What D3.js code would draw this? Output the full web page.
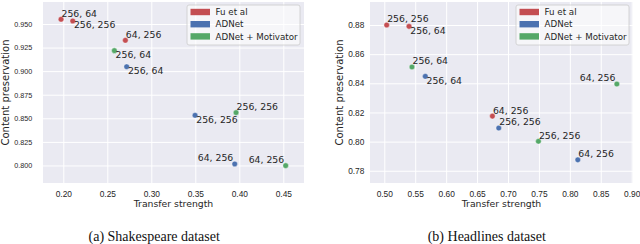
<!DOCTYPE html>
<html>
<head>
<meta charset="utf-8">
<script src="https://cdn.jsdelivr.net/npm/d3@7"></script>
<style>
  body { margin: 0; background: #fff; }
  svg { display: block; font-family: "DejaVu Sans", sans-serif; }
</style>
</head>
<body>
<div id="chart"></div>
<script>
// series shared by both panels
const seriesNames = ['Fu et al', 'ADNet', 'ADNet + Motivator'];
const seriesColors = ['#C44E52', '#4C72B0', '#55A868'];

// (a) Shakespeare dataset, one inner array per series
const shakesX = [[0.1974, 0.2107, 0.2705], [0.2720, 0.3497, 0.3948], [0.2580, 0.3963, 0.4527]];
const shakesY = [[0.9550, 0.9532, 0.9327], [0.9047, 0.8532, 0.8016], [0.9217, 0.8560, 0.7998]];
const shakesLabels = [['256, 64', '256, 256', '64, 256'], ['256, 64', '256, 256', '64, 256'], ['256, 64', '256, 256', '64, 256']];
const shakesXTicks = [0.20, 0.25, 0.30, 0.35, 0.40, 0.45];
const shakesYTicks = [0.800, 0.825, 0.850, 0.875, 0.900, 0.925, 0.950];

// (b) Headlines dataset
const headX = [[0.5039, 0.5400, 0.6748], [0.5663, 0.6851, 0.8129], [0.5448, 0.7492, 0.8760]];
const headY = [[0.8800, 0.8791, 0.8175], [0.8448, 0.8093, 0.7875], [0.8512, 0.8002, 0.8395]];
const headLabels = [['256, 256', '256, 64', '64, 256'], ['256, 64', '256, 256', '64, 256'], ['256, 64', '256, 256', '64, 256']];
const headXTicks = [0.50, 0.55, 0.60, 0.65, 0.70, 0.75, 0.80, 0.85, 0.90];
const headYTicks = [0.78, 0.80, 0.82, 0.84, 0.86, 0.88];

// where each annotation sits relative to its dot
const shakesPlace = [['above', 'below', 'above'], ['below', 'below', 'left'], ['below', 'above', 'left']];
const headPlace = [['above', 'below', 'above'], ['below', 'above', 'above'], ['above', 'above', 'left']];

const W = 640, H = 244;
const svg = d3.select('#chart').append('svg')
  .attr('width', W)
  .attr('height', H);

const panels = [
  { left: 43, right: 304, xs: shakesX, ys: shakesY, lbls: shakesLabels, place: shakesPlace,
    xDom: [0.1769, 0.4735], yDom: [0.7814, 0.9733], xTicks: shakesXTicks, yTicks: shakesYTicks,
    yFmt: '.3f', yTickSize: 7.2, yPad: 10.7, yTitleX: 8.5, capX: 154.2, caption: '(a) Shakespeare dataset' },
  { left: 370, right: 633, xs: headX, ys: headY, lbls: headLabels, place: headPlace,
    xDom: [0.4769, 0.9021], yDom: [0.7716, 0.8958], xTicks: headXTicks, yTicks: headYTicks,
    yFmt: '.2f', yTickSize: 8.3, yPad: 5.7, yTitleX: 343, capX: 486.8, caption: '(b) Headlines dataset' }
];
const plotTop = 2, plotBottom = 183;

panels.forEach(p => {
  const w = p.right - p.left, h = plotBottom - plotTop;
  const g = svg.append('g').attr('transform', `translate(${p.left}, ${plotTop})`);

  const x = d3.scaleLinear().domain(p.xDom).range([0, w]);
  const y = d3.scaleLinear().domain(p.yDom).range([h, 0]);

  g.append('rect').attr('width', w).attr('height', h).attr('fill', '#EAEAF2');

  // x axis + vertical grid
  const gx = g.append('g')
    .attr('transform', `translate(0, ${h})`)
    .call(d3.axisBottom(x).tickValues(p.xTicks).tickFormat(d3.format('.2f')).tickSize(-h).tickPadding(8));
  gx.select('.domain').remove();
  gx.selectAll('line').attr('stroke', '#fff').attr('stroke-width', 1);
  gx.selectAll('text').attr('fill', '#262626').attr('font-size', '8.4px');

  // y axis + horizontal grid
  const gy = g.append('g')
    .call(d3.axisLeft(y).tickValues(p.yTicks).tickFormat(d3.format(p.yFmt)).tickSize(-w).tickPadding(p.yPad));
  gy.select('.domain').remove();
  gy.selectAll('line').attr('stroke', '#fff').attr('stroke-width', 1);
  gy.selectAll('text').attr('fill', '#262626').attr('font-size', p.yTickSize + 'px');

  // dots + annotations
  seriesNames.forEach((name, si) => {
    const pts = p.xs[si].map((v, i) => ({ x: v, y: p.ys[si][i], lbl: p.lbls[si][i], pos: p.place[si][i] }));
    g.append('g').selectAll('circle')
      .data(pts)
      .enter()
      .append('circle')
      .attr('cx', d => x(d.x))
      .attr('cy', d => y(d.y))
      .attr('r', 2.8)
      .attr('fill', seriesColors[si])
      .attr('stroke', '#fff')
      .attr('stroke-width', 0.4);
    g.append('g').selectAll('text')
      .data(pts)
      .enter()
      .append('text')
      .attr('x', d => d.pos === 'left' ? x(d.x) - 1.5 : x(d.x) + (d.pos === 'below' ? 1.2 : 0.5))
      .attr('y', d => d.pos === 'below' ? y(d.y) + 7.5 : y(d.y) - 2.6)
      .attr('text-anchor', d => d.pos === 'left' ? 'end' : 'start')
      .attr('font-size', '9.3px')
      .attr('fill', '#262626')
      .text(d => d.lbl);
  });

  // legend
  const lg = g.append('g').attr('transform', `translate(${w - 4 - 113}, 3)`);
  lg.append('rect')
    .attr('width', 113).attr('height', 40).attr('rx', 2)
    .attr('fill', '#fff').attr('fill-opacity', 0.55)
    .attr('stroke', '#cccccc').attr('stroke-width', 0.8);
  seriesNames.forEach((name, si) => {
    lg.append('rect')
      .attr('x', 3.5).attr('y', 7 + si * 12.2 - 3.2)
      .attr('width', 19.5).attr('height', 6.4)
      .attr('fill', seriesColors[si]);
    lg.append('text')
      .attr('x', 28.5).attr('y', 7 + si * 12.2 + 3.1)
      .attr('font-size', '8.7px').attr('fill', '#262626')
      .text(name);
  });

  // axis titles
  svg.append('text')
    .attr('x', p.left + w / 2).attr('y', 206.7)
    .attr('text-anchor', 'middle').attr('font-size', '9.3px').attr('fill', '#262626')
    .text('Transfer strength');
  svg.append('text')
    .attr('transform', `translate(${p.yTitleX}, ${plotTop + h / 2}) rotate(-90)`)
    .attr('text-anchor', 'middle').attr('font-size', '10px').attr('fill', '#262626')
    .text('Content preservation');

  // caption
  svg.append('text')
    .attr('x', p.capX).attr('y', 240.5)
    .attr('text-anchor', 'middle')
    .attr('font-family', '"Liberation Serif", serif').attr('font-size', '14px').attr('fill', '#111')
    .text(p.caption);
});
</script>
</body>
</html>
